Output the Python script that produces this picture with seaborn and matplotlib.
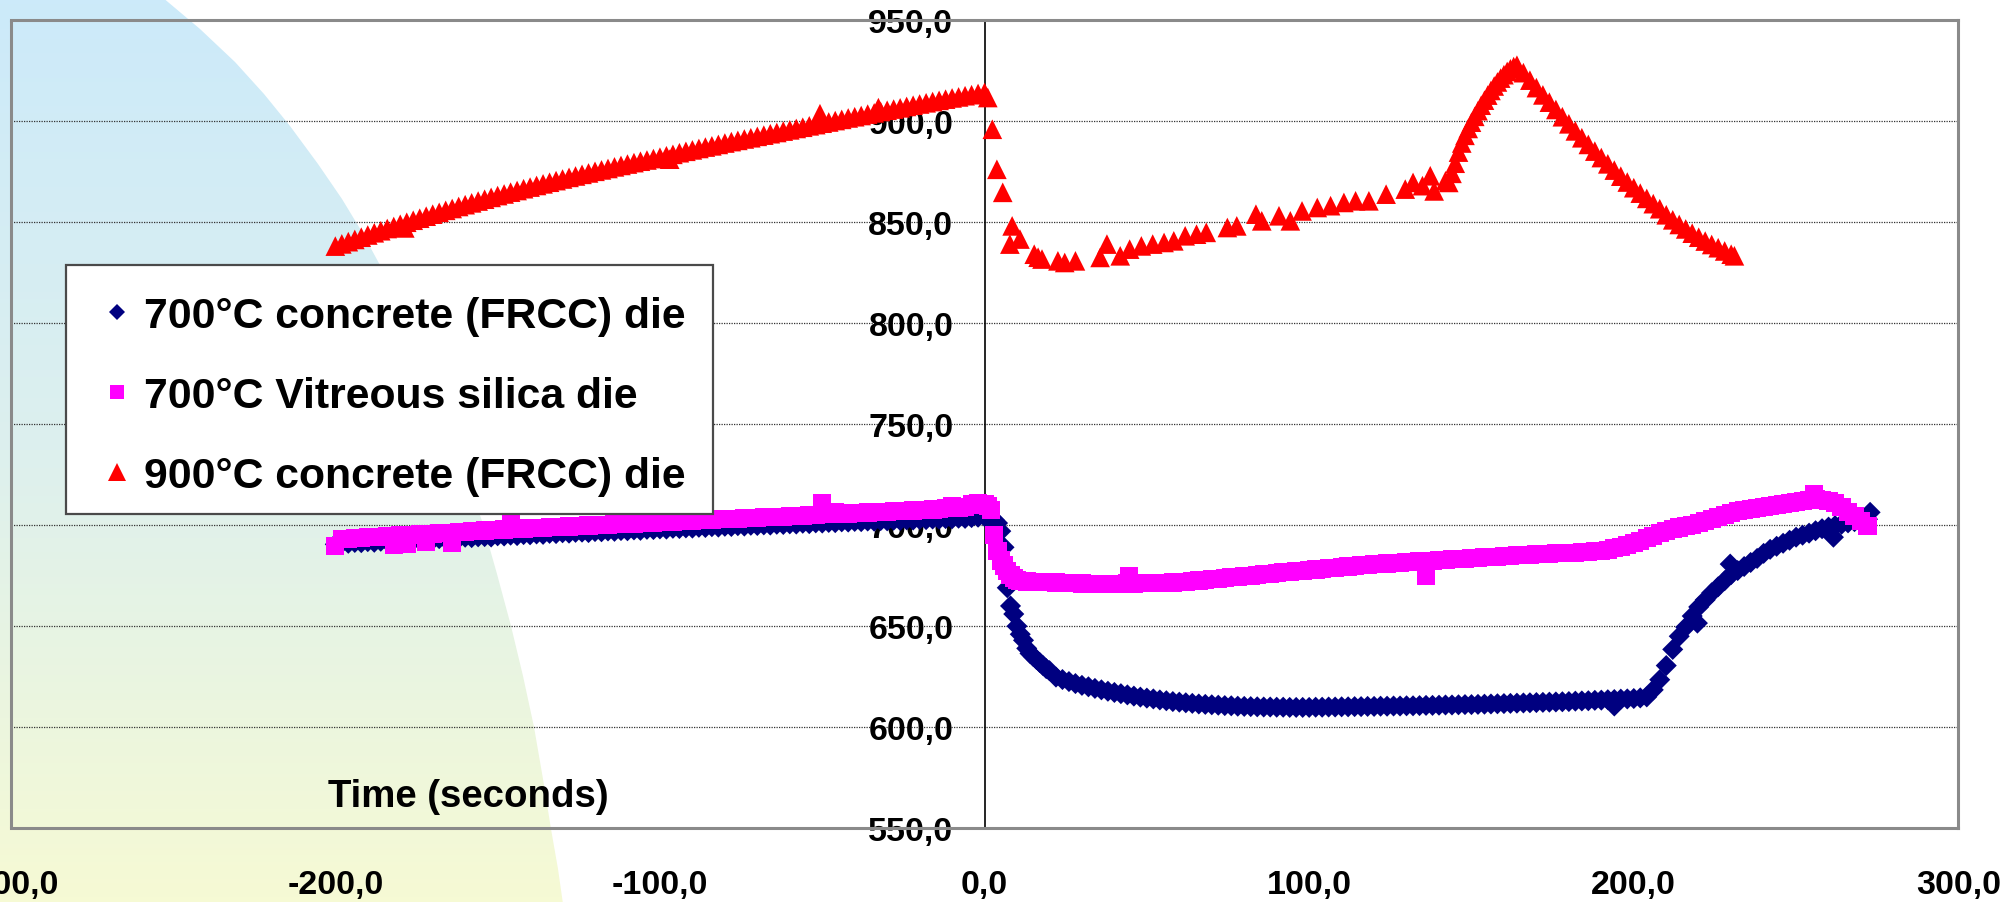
import numpy as np
import matplotlib
matplotlib.use("Agg")
import matplotlib.pyplot as plt
import seaborn as sns
from matplotlib.patches import Polygon, Rectangle
from matplotlib.lines import Line2D
from matplotlib.colors import LinearSegmentedColormap
from matplotlib.ticker import MultipleLocator, FuncFormatter

# ---------------- data ----------------
SERIES_LABELS = ["700°C concrete (FRCC) die", "700°C Vitreous silica die", "900°C concrete (FRCC) die"]
X_TICKS = [-300, -200, -100, 0, 100, 200, 300]
Y_TICKS = [550, 600, 650, 700, 750, 800, 850, 900, 950]
X_LABEL = "Time (seconds)"

# sampling grids (seconds)
TIME_PRE = list(range(-200, 1, 2))                              # before t = 0
TIME_POST = list(range(1, 21, 1)) + list(range(22, 273, 2))     # after t = 0

NAVY_PRE = [
    690.5, 691.2, 691.0, 691.4, 691.3, 691.8, 691.5, 692.0, 692.1, 691.8,
    692.4, 692.3, 692.8, 692.5, 693.0, 692.9, 693.3, 693.1, 693.6, 693.5,
    694.0, 693.8, 694.2, 694.3, 694.1, 694.7, 694.6, 695.0, 694.8, 695.3,
    695.2, 695.6, 695.4, 695.9, 695.8, 696.2, 696.0, 696.4, 696.5, 696.3,
    696.8, 696.7, 697.1, 696.9, 697.3, 697.2, 697.6, 697.4, 697.9, 697.8,
    698.1, 698.0, 698.4, 698.3, 698.6, 698.5, 698.9, 698.8, 699.2, 699.0,
    699.4, 699.3, 699.7, 699.5, 699.9, 699.8, 700.1, 700.0, 700.4, 700.3,
    700.6, 700.5, 700.9, 700.7, 701.1, 701.0, 701.3, 701.2, 701.6, 701.5,
    701.8, 701.7, 702.0, 701.9, 702.2, 702.1, 702.4, 702.3, 702.6, 702.5,
    702.8, 702.7, 703.0, 702.9, 703.2, 703.1, 703.4, 703.3, 703.7, 703.9,
    704.2]
NAVY_POST = [
    704.0, 703.5, 702.5, 701.0, 697.0, 689.0, 669.0, 660.0, 656.0, 650.0,
    646.0, 643.0, 639.0, 636.5, 635.0, 633.5, 632.0, 630.5, 629.0, 628.0,
    624.8, 623.6, 622.6, 621.6, 620.7, 620.0, 619.2, 618.5, 617.8, 617.2,
    616.6, 616.0, 615.4, 614.9, 614.4, 614.0, 613.5, 613.1, 612.7, 612.4,
    612.1, 611.8, 611.5, 611.3, 611.1, 610.9, 610.7, 610.6, 610.4, 610.3,
    610.2, 610.1, 610.0, 610.0, 609.9, 609.9, 609.8, 609.8, 609.8, 609.8,
    609.9, 609.9, 610.0, 610.0, 610.1, 610.1, 610.2, 610.2, 610.3, 610.3,
    610.4, 610.4, 610.5, 610.5, 610.6, 610.6, 610.7, 610.8, 610.8, 610.9,
    611.0, 611.0, 611.1, 611.2, 611.2, 611.3, 611.4, 611.5, 611.6, 611.7,
    611.8, 611.9, 612.0, 612.1, 612.2, 612.3, 612.4, 612.5, 612.6, 612.7,
    612.9, 613.0, 613.1, 613.3, 613.4, 613.6, 613.7, 613.9, 614.0, 614.2,
    614.5, 615.0, 618.5, 623.5, 630.5, 638.5, 645.0, 649.5, 655.0, 659.5,
    663.0, 666.5, 669.5, 672.5, 675.5, 677.5, 679.5, 681.5, 683.5, 686.0,
    688.0, 689.5, 691.0, 692.5, 694.0, 695.0, 696.0, 697.2, 698.2, 699.0,
    699.7, 700.4, 701.1, 701.7, 702.3, 702.9]
NAVY_EXTRA_T = [194.0, 219.6, 229.7, 261.5, 272.8]
NAVY_EXTRA_V = [610.5, 651.5, 680.7, 694.0, 706.3]

PINK_PRE = [
    689.8, 693.0, 693.3, 693.4, 693.6, 693.9, 694.0, 694.3, 694.4, 690.0,
    694.9, 690.8, 695.2, 695.4, 691.6, 695.8, 696.0, 696.1, 691.0, 696.5,
    696.7, 696.9, 697.1, 697.3, 697.5, 697.6, 697.8, 700.9, 698.1, 698.3,
    698.4, 698.6, 698.7, 698.9, 699.0, 699.2, 699.3, 699.5, 699.6, 699.8,
    699.9, 700.1, 700.2, 700.4, 700.5, 700.7, 700.8, 701.0, 701.1, 701.3,
    701.4, 701.6, 701.7, 701.9, 702.0, 702.2, 702.3, 702.5, 702.6, 702.8,
    702.9, 703.1, 703.2, 703.4, 703.5, 703.6, 703.8, 703.9, 704.1, 704.2,
    704.4, 704.5, 704.7, 704.8, 705.0, 711.0, 705.3, 706.5, 705.6, 705.7,
    705.9, 706.0, 706.2, 706.3, 706.5, 706.6, 706.8, 706.9, 707.1, 707.2,
    707.4, 707.5, 707.7, 707.8, 708.5, 709.5, 708.7, 709.0, 710.2, 710.8,
    710.5]
PINK_POST = [
    709.5, 707.5, 695.0, 687.0, 682.5, 680.0, 677.5, 675.5, 674.0, 673.0,
    672.5, 672.2, 672.1, 672.0, 671.9, 671.9, 671.8, 671.8, 671.7, 671.7,
    671.6, 671.5, 671.3, 671.2, 671.1, 671.0, 670.9, 670.8, 670.8, 670.9,
    671.0, 671.1, 671.1, 671.2, 671.3, 671.4, 671.5, 671.5, 671.6, 671.8,
    672.0, 672.3, 672.6, 672.9, 673.2, 673.5, 673.8, 674.1, 674.4, 674.7,
    675.0, 675.3, 675.7, 676.0, 676.3, 676.6, 676.9, 677.2, 677.5, 677.8,
    678.0, 678.3, 678.6, 678.9, 679.2, 679.5, 679.8, 680.1, 680.3, 680.6,
    680.8, 681.0, 681.2, 681.4, 681.6, 681.8, 682.0, 682.2, 682.4, 682.6,
    682.8, 683.0, 683.2, 683.4, 683.6, 683.8, 684.0, 684.2, 684.4, 684.6,
    684.8, 685.0, 685.2, 685.4, 685.6, 685.7, 685.8, 686.0, 686.1, 686.2,
    686.4, 686.5, 686.7, 687.0, 687.3, 687.8, 688.5, 689.3, 690.2, 691.0,
    692.2, 693.5, 694.8, 696.0, 697.0, 698.0, 698.8, 699.5, 700.2, 701.0,
    702.0, 703.0, 704.0, 705.0, 706.0, 706.8, 707.3, 707.8, 708.3, 708.8,
    709.3, 709.8, 710.3, 710.8, 711.3, 711.8, 712.5, 713.0, 712.5, 712.0,
    711.0, 709.0, 706.5, 704.5, 702.0, 699.5]
PINK_EXTRA_T = [44.5, 136.0, 255.5]
PINK_EXTRA_V = [675.0, 675.0, 715.4]

RED_PRE = [
    838.0, 839.1, 840.2, 841.3, 842.4, 843.5, 844.6, 845.6, 846.7, 847.7,
    848.8, 849.8, 850.8, 851.8, 852.8, 853.8, 854.7, 855.7, 856.6, 857.6,
    858.5, 859.4, 860.3, 861.2, 862.1, 863.0, 863.8, 864.7, 865.5, 866.4,
    867.2, 868.0, 868.8, 869.6, 870.4, 871.2, 872.0, 872.7, 873.5, 874.2,
    875.0, 875.7, 876.4, 877.2, 877.9, 878.6, 879.3, 880.0, 880.6, 881.3,
    882.0, 882.7, 883.4, 884.2, 884.9, 885.6, 886.3, 887.0, 887.6, 888.3,
    889.0, 889.7, 890.3, 891.0, 891.6, 892.3, 892.9, 893.6, 894.2, 894.9,
    895.5, 896.2, 896.8, 897.5, 898.1, 898.8, 899.4, 900.1, 900.7, 901.4,
    902.0, 902.6, 903.3, 903.9, 904.6, 905.2, 905.8, 906.4, 907.1, 907.7,
    908.3, 908.9, 909.5, 910.1, 910.7, 911.3, 911.8, 912.4, 912.9, 913.5,
    914.0]
RED_EXTRA_T = [-178.6, -97.0, -50.7, -32.7]
RED_EXTRA_V = [847.0, 881.0, 903.5, 906.5]
RED_POST_T = [
    1.0, 2.4, 3.8, 5.6, 7.8, 8.5, 10.9, 15.3, 16.5, 17.7, 22.6, 24.7, 28.0,
    35.6, 37.7, 41.8, 44.7, 48.3, 51.8, 55.3, 58.3, 61.8, 65.3, 68.3, 74.8,
    77.7, 83.6, 85.4, 90.7, 94.2, 97.8, 102.5, 106.6, 110.7, 114.3, 118.4,
    123.7, 129.6, 132.0, 134.9, 137.3, 138.5, 142.0,
    143, 144, 145, 146, 147, 148, 149, 150, 151, 152, 153, 154, 155, 156,
    157, 158, 159, 160, 161, 162, 163, 164,
    166, 168, 170, 172, 174, 176, 178, 180, 182, 184, 186, 188, 190, 192,
    194, 196, 198, 200, 202, 204, 206, 208, 210, 212, 214, 216, 218, 220,
    222, 224, 226, 228, 230, 231]
RED_POST_V = [
    911.5, 895.8, 876.0, 864.6, 839.0, 848.0, 841.5, 834.0, 832.5, 831.6,
    830.7, 829.9, 830.7, 832.4, 839.0, 833.2, 836.5, 838.1, 839.0, 839.8,
    840.6, 843.1, 843.9, 844.8, 847.2, 848.0, 853.8, 850.5, 853.0, 850.5,
    855.4, 857.1, 858.0, 859.6, 860.4, 860.4, 863.7, 866.2, 869.5, 867.9,
    872.8, 865.3, 870.3,
    869.5, 874.0, 879.0, 884.5, 889.0, 892.8, 896.2, 899.3, 902.2, 905.0,
    907.7, 910.2, 912.7, 915.0, 917.2, 919.2, 921.1, 922.8, 924.4, 925.7,
    926.8, 927.5,
    923.8, 920.1, 916.4, 912.8, 909.2, 905.6, 902.0, 898.5, 895.0, 891.6,
    888.3, 885.0, 881.8, 878.7, 875.6, 872.6, 869.7, 866.9, 864.2, 861.6,
    859.0, 856.5, 853.5, 851.0, 848.7, 846.5, 844.4, 842.4, 840.5, 838.8,
    837.2, 835.6, 834.0, 833.2]

COLORS = ["#000080", "#FF00FF", "#FF0000"]
MARKERS = ["D", "s", "^"]
SIZES = [115, 170, 200]

# ---------------- figure ----------------
W, H = 2007, 903
sns.set_style("white")
plt.rcParams["font.family"] = ["Liberation Sans", "DejaVu Sans"]
plt.rcParams["font.weight"] = "bold"
plt.rcParams["text.color"] = "black"
plt.rcParams["xtick.color"] = "black"
plt.rcParams["ytick.color"] = "black"
plt.rcParams["xtick.labelcolor"] = "black"
plt.rcParams["ytick.labelcolor"] = "black"
fig = plt.figure(figsize=(W / 100, H / 100), dpi=100)

# slide background: soft blue-to-yellow gradient in a large rounded shape
bg = fig.add_axes([0, 0, 1, 1], zorder=-10)
bg.set_xlim(0, W)
bg.set_ylim(H, 0)
bg.axis("off")
cmap = LinearSegmentedColormap.from_list("bg", ["#CCEAFA", "#DDF0EE", "#F6FAD4"])
im = bg.imshow(np.linspace(0, 1, 256)[:, None], extent=(0, W, H, 0), cmap=cmap,
               aspect="auto", interpolation="bilinear")
edge = [(162, -2), (200, 30), (235, 63), (264, 95), (290, 127), (318, 165), (342, 200),
        (362, 233), (381, 268), (402, 310), (420, 352), (437, 395), (452, 437),
        (467, 480), (482, 522), (497, 575), (511, 627), (523, 677), (534, 728),
        (543, 780), (551, 830), (558, 870), (563, 905), (0, 905), (0, -2)]
clip = Polygon(edge, closed=True, transform=bg.transData)
im.set_clip_path(clip)

# main axes
L, R, T, B = 10.7, 1958.4, 20.7, 829.3
ax = fig.add_axes([L / W, 1 - B / H, (R - L) / W, (B - T) / H])
ax.set_facecolor("none")

def plot_series(t, v, i):
    sns.scatterplot(x=t, y=v, ax=ax, marker=MARKERS[i], color=COLORS[i],
                    s=SIZES[i], linewidth=0, edgecolor="none", zorder=3 + 0.1 * i,
                    legend=False)

plot_series(TIME_PRE + TIME_POST + NAVY_EXTRA_T, NAVY_PRE + NAVY_POST + NAVY_EXTRA_V, 0)
plot_series(TIME_PRE + TIME_POST + PINK_EXTRA_T, PINK_PRE + PINK_POST + PINK_EXTRA_V, 1)
plot_series(TIME_PRE + RED_EXTRA_T + RED_POST_T, RED_PRE + RED_EXTRA_V + RED_POST_V, 2)

ax.set_xlim(X_TICKS[0], X_TICKS[-1])
ax.set_ylim(Y_TICKS[0], Y_TICKS[-1])
ax.set_xticks(X_TICKS)
ax.set_yticks(Y_TICKS)
ax.yaxis.set_minor_locator(MultipleLocator(10))
fmt = FuncFormatter(lambda v, p: f"{v:.1f}".replace(".", ","))
ax.xaxis.set_major_formatter(fmt)
ax.yaxis.set_major_formatter(fmt)
ax.set_xlabel("")
ax.set_ylabel("")

# gridlines
ax.set_axisbelow(True)
ax.yaxis.grid(True, which="major", color="#333333", linestyle=(0, (1, 1)), linewidth=0.9)
ax.xaxis.grid(False)

# frame
frame_col = "#8a8a8a"
for s in ["top", "right", "bottom"]:
    ax.spines[s].set_color(frame_col)
    ax.spines[s].set_linewidth(2.2)
ax.spines["left"].set_position(("data", 0))
ax.spines["left"].set_color("black")
ax.spines["left"].set_linewidth(1.2)
ax.spines["left"].set_zorder(2.5)
ax.axvline(X_TICKS[0], color=frame_col, linewidth=2.2, clip_on=False, zorder=2.4)

ax.tick_params(axis="y", which="major", direction="inout", length=14, width=1.2,
               color="black", labelcolor="black", labelsize=24.5, pad=15.5)
ax.tick_params(axis="y", which="minor", direction="inout", length=12, width=1.2, color="black")
ax.tick_params(axis="x", which="major", direction="out", length=9, width=1.2,
               color="black", labelcolor="black", labelsize=24.5, pad=20)
for lab in ax.get_xticklabels() + ax.get_yticklabels():
    lab.set_fontweight("bold")

ax.text(-202.2, 561.2, X_LABEL, fontsize=27.6, fontweight="bold", color="black",
        ha="left", va="baseline", zorder=4)

# legend box + legend
box = Rectangle((66 / W, 1 - 515 / H), (713 - 66) / W, (515 - 266) / H, transform=fig.transFigure,
                facecolor="white", edgecolor="#4a4a4a", linewidth=1.6, zorder=6)
fig.patches.append(box)
handles = [
    Line2D([], [], marker="D", color=COLORS[0], linestyle="none", markersize=8.6, markeredgewidth=0),
    Line2D([], [], marker="s", color=COLORS[1], linestyle="none", markersize=10.3, markeredgewidth=0),
    Line2D([], [], marker="^", color=COLORS[2], linestyle="none", markersize=13, markeredgewidth=0),
]
leg = fig.legend(handles, SERIES_LABELS, loc="center left",
                 bbox_to_anchor=(100 / W, 1 - 397 / H), bbox_transform=fig.transFigure,
                 frameon=False, borderpad=0, borderaxespad=0, handlelength=0.8,
                 handletextpad=0.23, labelspacing=0.93,
                 prop={"family": ["Liberation Sans", "DejaVu Sans"], "weight": "bold", "size": 30.8})
for txt in leg.get_texts():
    txt.set_color("black")
leg.set_zorder(7)

fig.savefig("out.png", dpi=100)
